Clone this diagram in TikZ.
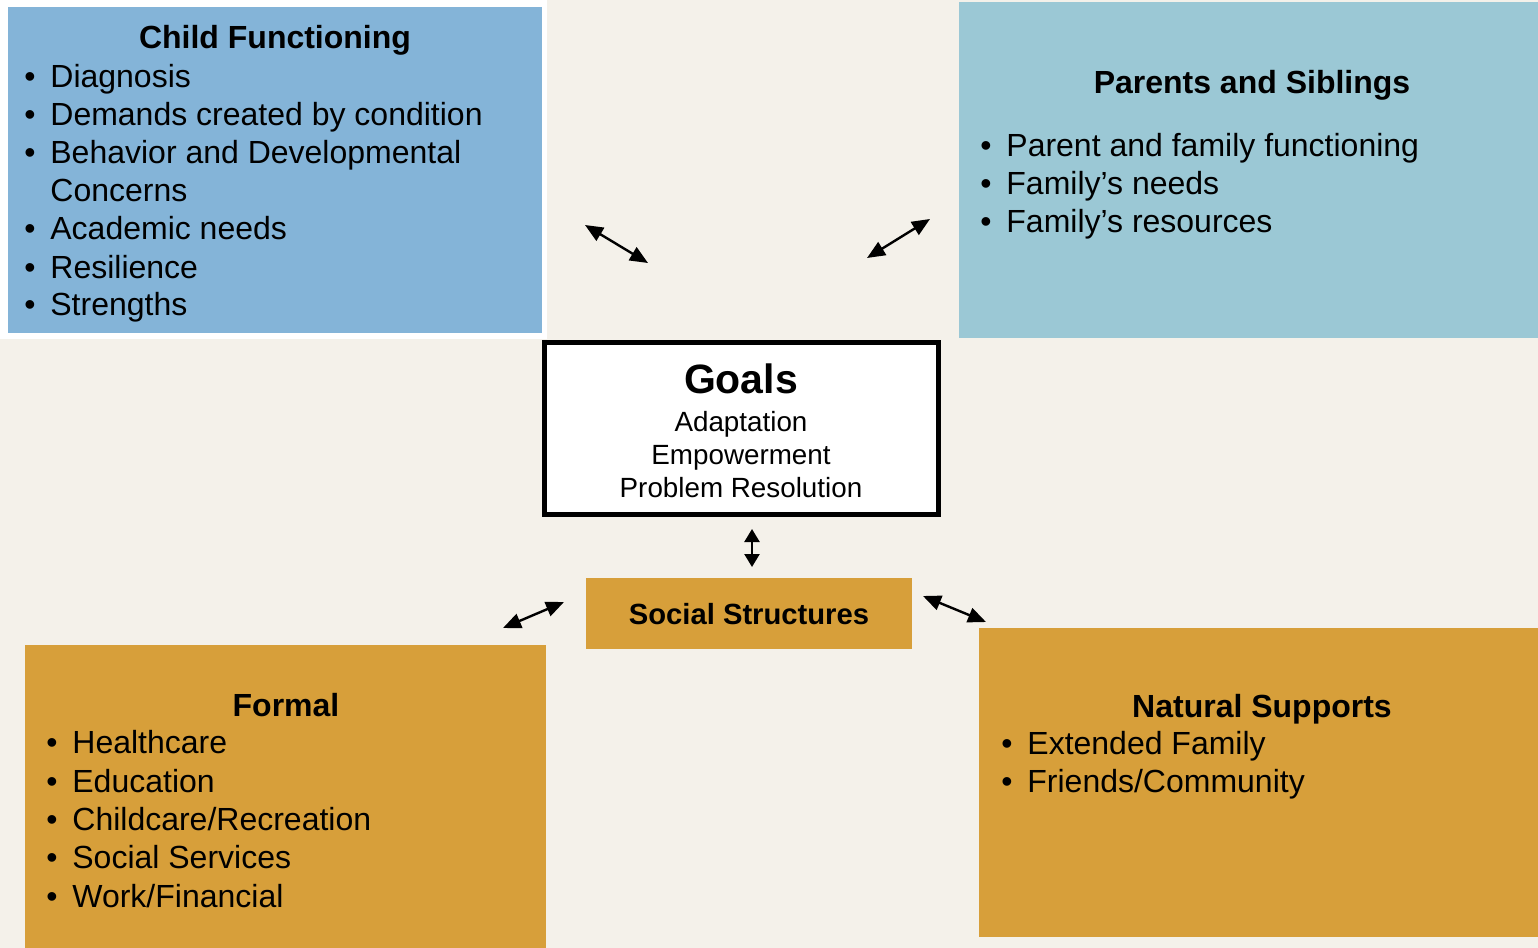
\documentclass[tikz,border=0pt]{standalone}
\usepackage{fontspec}
\setmainfont{Liberation Sans}
\usetikzlibrary{arrows.meta}
\definecolor{bg}{HTML}{F4F1EA}
\definecolor{cfblue}{HTML}{84B4D8}
\definecolor{psblue}{HTML}{9BC8D5}
\definecolor{gold}{HTML}{D79F3A}
\begin{document}
\begin{tikzpicture}[x=0.5pt,y=-0.5pt,
  box/.style={draw=none, inner sep=0pt, outer sep=0pt},
  ttl/.style={anchor=base, inner sep=0pt, font=\fontsize{16}{19}\selectfont\bfseries},
  itm/.style={anchor=base west, inner sep=0pt, font=\fontsize{16}{19}\selectfont},
  bul/.style={anchor=base, inner sep=0pt, font=\fontsize{16}{19}\selectfont},
  gline/.style={anchor=base, inner sep=0pt, font=\fontsize{13.9}{16}\selectfont},
  conn/.style={{Triangle[length=9pt,width=7.5pt]}-{Triangle[length=9pt,width=7.5pt]}, line width=1.2pt, black},
  vconn/.style={{Triangle[length=6.5pt,width=7.5pt]}-{Triangle[length=6.5pt,width=7.5pt]}, line width=1.2pt, black}]
\useasboundingbox (0,0) rectangle (1538,948);
\fill[bg] (0,0) rectangle (1538,948);
\fill[white] (0,0) rectangle (547,339);

% boxes
\node[box, fill=cfblue, minimum width=267pt, minimum height=163pt] (child) at (275,170) {};
\node[box, fill=psblue, minimum width=289.5pt, minimum height=168pt] (parents) at (1248.5,170) {};
\node[draw=black, fill=white, line width=2.5pt, inner sep=0pt, minimum width=197pt, minimum height=86pt] (goals) at (741,428.5) {};
\node[box, fill=gold, minimum width=163pt, minimum height=35.5pt] (social) at (749,613.5) {};
\node[box, fill=gold, minimum width=260.5pt, minimum height=151.5pt] (formal) at (285.5,796.5) {};
\node[box, fill=gold, minimum width=279.5pt, minimum height=154.5pt] (natural) at (1258.5,782.5) {};

% Child Functioning
\node[ttl] (cft) at (275,48) {Child Functioning};
\foreach \y/\t [count=\i] in {87/{Diagnosis},125/{Demands created by condition},163/{Behavior and Developmental},239/{Academic needs},278/{Resilience},315/{Strengths}}{
  \node[bul] (cfb\i) at (30,\y) {•};
  \node[itm] (cfi\i) at (50,\y) {\t};
}
\node[itm] (cfc) at (50,201) {Concerns};

% Parents and Siblings
\node[ttl] (pst) at (1252,93) {Parents and Siblings};
\foreach \y/\t [count=\i] in {156/{Parent and family functioning},194/{Family’s needs},232/{Family’s resources}}{
  \node[bul] (psb\i) at (986,\y) {•};
  \node[itm] (psi\i) at (1006,\y) {\t};
}

% Goals
\node[anchor=base, inner sep=0pt, font=\fontsize{20.5}{24}\selectfont\bfseries] (gt) at (741,393) {Goals};
\node[gline] (g1) at (741,431) {Adaptation};
\node[gline] (g2) at (741,464) {Empowerment};
\node[gline] (g3) at (741,497) {Problem Resolution};

% Social Structures
\node[anchor=base, inner sep=0pt, font=\fontsize{14.6}{17}\selectfont\bfseries] (sst) at (749,624) {Social Structures};

% Formal
\node[ttl] (ft) at (286,716) {Formal};
\foreach \y/\t [count=\i] in {753/{Healthcare},792/{Education},830/{Childcare/Recreation},868/{Social Services},907/{Work/Financial}}{
  \node[bul] (fb\i) at (52,\y) {•};
  \node[itm] (fi\i) at (72,\y) {\t};
}

% Natural Supports
\node[ttl] (nt) at (1262,717) {Natural Supports};
\foreach \y/\t [count=\i] in {754/{Extended Family},792/{Friends/Community}}{
  \node[bul] (nb\i) at (1007,\y) {•};
  \node[itm] (ni\i) at (1027,\y) {\t};
}

% arrows
\coordinate (a1s) at (585,225); \coordinate (a1e) at (648,263);
\coordinate (a2s) at (930,219); \coordinate (a2e) at (867,258);
\coordinate (a3s) at (752,529); \coordinate (a3e) at (752,567);
\coordinate (a4s) at (503,628); \coordinate (a4e) at (564,602);
\coordinate (a5s) at (923,596); \coordinate (a5e) at (986,622);
\draw[conn] (a1s) -- (a1e);
\draw[conn] (a2s) -- (a2e);
\draw[vconn] (a3s) -- (a3e);
\draw[conn] (a4s) -- (a4e);
\draw[conn] (a5s) -- (a5e);
\end{tikzpicture}
\end{document}
